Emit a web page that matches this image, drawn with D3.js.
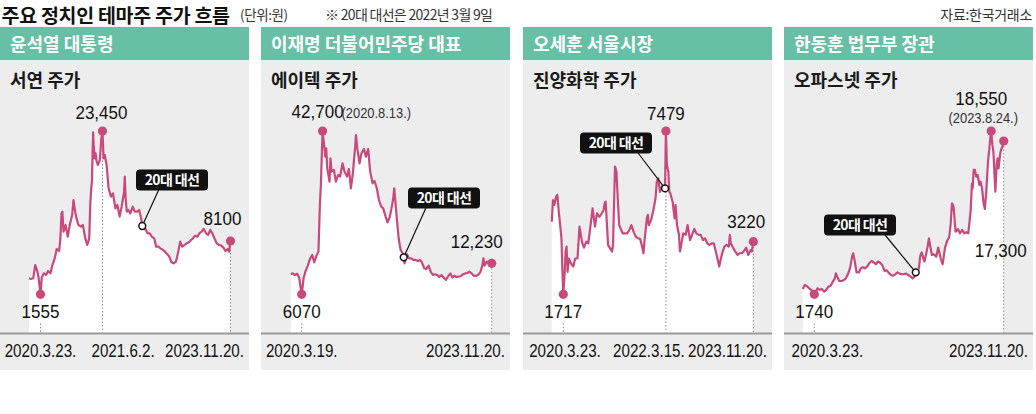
<!DOCTYPE html>
<html><head><meta charset="utf-8">
<script src="https://cdn.jsdelivr.net/npm/d3@7"></script>
<style>
body{margin:0;background:#fff;}
svg{display:block;}
text{font-family:"Liberation Sans",Arial,sans-serif;}
.kr{font-family:"Noto Sans CJK KR","Noto Sans",sans-serif;}
</style></head><body>
<svg id="chart" width="1036" height="414"></svg>
<script>
// ---------- DATA ----------
const titleText = "주요 정치인 테마주 주가 흐름";
const unitText = "(단위:원)";
const noteText = "※ 20대 대선은 2022년 3월 9일";
const sourceText = "자료:한국거래소";
const electionDate = "2022-03-09";
const electionLabel = "20대 대선";

const headers = ["윤석열 대통령", "이재명 더불어민주당 대표", "오세훈 서울시장", "한동훈 법무부 장관"];
const subtitles = ["서연 주가", "에이텍 주가", "진양화학 주가", "오파스넷 주가"];
const maxNotes = [null, "(2020.8.13.)", null, "(2023.8.24.)"];

const seoyeonDates = ["2020-01-02","2020-01-15","2020-02-01","2020-02-15","2020-03-01","2020-03-10","2020-03-23","2020-04-01","2020-04-15","2020-05-01","2020-05-15","2020-06-01","2020-06-15","2020-07-01","2020-07-15","2020-08-01","2020-08-10","2020-08-18","2020-08-24","2020-09-01","2020-09-15","2020-10-01","2020-10-15","2020-11-01","2020-11-10","2020-11-20","2020-12-01","2020-12-15","2021-01-01","2021-01-15","2021-02-01","2021-02-15","2021-03-01","2021-03-08","2021-03-15","2021-03-20","2021-03-28","2021-04-01","2021-04-08","2021-04-15","2021-04-22","2021-05-01","2021-05-15","2021-05-25","2021-06-02","2021-06-10","2021-06-18","2021-07-01","2021-07-15","2021-08-01","2021-08-15","2021-09-01","2021-09-15","2021-10-01","2021-10-15","2021-10-25","2021-11-01","2021-11-06","2021-11-12","2021-11-20","2021-12-01","2021-12-15","2022-01-01","2022-01-15","2022-02-01","2022-02-15","2022-03-01","2022-03-09","2022-03-15","2022-04-01","2022-04-15","2022-05-01","2022-05-15","2022-06-01","2022-06-15","2022-07-01","2022-07-15","2022-08-01","2022-08-15","2022-09-01","2022-09-15","2022-10-01","2022-10-15","2022-11-01","2022-11-15","2022-12-01","2022-12-15","2023-01-01","2023-01-15","2023-02-01","2023-02-15","2023-03-01","2023-03-15","2023-04-01","2023-04-15","2023-05-01","2023-05-15","2023-06-01","2023-06-15","2023-07-01","2023-07-15","2023-08-01","2023-08-15","2023-09-01","2023-09-15","2023-10-01","2023-10-15","2023-11-01","2023-11-10","2023-11-20"];
const seoyeonValues = [3520,3440,3520,5150,4340,3520,1555,3600,4130,3930,4420,4130,5150,5970,7120,6870,8470,11960,12190,9400,10330,8700,10330,11730,13820,12430,11260,10330,10100,10330,8470,7610,8470,13120,15450,16380,23270,21500,19640,20340,19170,18710,19410,22430,23450,19640,20100,18710,15450,14290,14750,12660,13120,11500,12890,14060,14990,17080,14060,12190,12430,11960,12890,12190,12190,12430,11260,10190,9780,9780,9170,9170,8700,8470,7400,7400,7200,7000,6790,6460,6180,5480,5360,5560,6590,8020,7400,7610,7810,7940,8240,8470,8840,8700,9170,9400,9780,9170,8940,9640,9170,8380,7810,7610,7530,7280,6870,7120,6790,8100];
const seoyeonTicks = ["2020-03-23","2021-06-02","2023-11-20"];
const seoyeonTickLabels = ["2020.3.23.","2021.6.2.","2023.11.20."];

const eitekDates = ["2020-01-02","2020-01-15","2020-02-01","2020-02-15","2020-03-01","2020-03-10","2020-03-19","2020-04-01","2020-04-15","2020-05-01","2020-05-15","2020-06-01","2020-06-15","2020-07-01","2020-07-15","2020-07-25","2020-08-01","2020-08-07","2020-08-13","2020-08-20","2020-09-01","2020-09-08","2020-09-15","2020-10-01","2020-10-08","2020-10-15","2020-11-01","2020-11-15","2020-12-01","2020-12-15","2021-01-01","2021-01-15","2021-02-01","2021-02-15","2021-03-01","2021-03-15","2021-04-01","2021-04-06","2021-04-15","2021-05-01","2021-05-15","2021-06-01","2021-06-15","2021-07-01","2021-07-15","2021-08-01","2021-08-15","2021-09-01","2021-09-15","2021-10-01","2021-10-15","2021-11-01","2021-11-15","2021-12-01","2021-12-15","2021-12-25","2022-01-01","2022-01-15","2022-02-01","2022-02-15","2022-03-01","2022-03-09","2022-03-15","2022-04-01","2022-04-15","2022-05-01","2022-05-15","2022-06-01","2022-06-15","2022-07-01","2022-07-15","2022-08-01","2022-08-15","2022-09-01","2022-09-15","2022-10-01","2022-10-15","2022-11-01","2022-11-15","2022-12-01","2022-12-15","2023-01-01","2023-01-15","2023-02-01","2023-02-15","2023-03-01","2023-03-15","2023-04-01","2023-04-15","2023-05-01","2023-05-15","2023-06-01","2023-06-15","2023-07-01","2023-07-15","2023-08-01","2023-08-15","2023-09-01","2023-09-15","2023-09-22","2023-10-01","2023-10-15","2023-11-01","2023-11-10","2023-11-20"];
const eitekValues = [10040,10240,9910,10180,9380,7590,6070,9250,10710,11770,13150,14150,12460,14000,14920,25660,30270,36410,42700,40630,36790,38710,34100,31030,36410,33340,33720,31030,32570,32190,35260,33340,32190,33950,29500,32950,39480,41780,38710,35260,37560,38560,36790,38560,33340,30650,31190,29350,26810,25280,24890,22980,21670,22980,25280,27200,29500,24130,17990,15300,14530,13610,12230,14300,13380,13380,13000,13000,12770,13000,12460,11240,11100,11770,10570,9910,10040,9910,9510,9910,9380,8920,9580,10240,9380,9780,9510,9580,9650,10040,10180,10310,10570,10240,9780,9710,9910,10440,11770,13380,11770,12610,12460,12030,12230];
const eitekTicks = ["2020-03-19","2023-11-20"];
const eitekTickLabels = ["2020.3.19.","2023.11.20."];

const jinyangDates = ["2020-01-02","2020-01-10","2020-01-20","2020-02-01","2020-02-10","2020-02-20","2020-03-01","2020-03-10","2020-03-16","2020-03-23","2020-04-01","2020-04-08","2020-04-15","2020-04-22","2020-05-01","2020-05-15","2020-06-01","2020-06-15","2020-07-01","2020-07-15","2020-08-01","2020-08-15","2020-09-01","2020-09-15","2020-10-01","2020-10-15","2020-11-01","2020-11-15","2020-12-01","2020-12-15","2021-01-01","2021-01-08","2021-01-15","2021-02-01","2021-02-15","2021-03-01","2021-03-08","2021-03-15","2021-03-22","2021-04-01","2021-04-10","2021-04-20","2021-05-01","2021-05-15","2021-06-01","2021-06-15","2021-07-01","2021-07-15","2021-08-01","2021-08-15","2021-09-01","2021-09-15","2021-10-01","2021-10-08","2021-10-15","2021-11-01","2021-11-08","2021-11-15","2021-12-01","2021-12-15","2022-01-01","2022-01-10","2022-01-20","2022-02-01","2022-02-15","2022-03-09","2022-03-15","2022-03-22","2022-04-01","2022-04-08","2022-04-15","2022-05-01","2022-05-15","2022-05-22","2022-06-01","2022-06-15","2022-06-22","2022-07-01","2022-07-15","2022-08-01","2022-08-15","2022-09-01","2022-09-15","2022-10-01","2022-10-15","2022-11-01","2022-11-15","2022-12-01","2022-12-15","2023-01-01","2023-01-15","2023-02-01","2023-02-15","2023-03-01","2023-03-15","2023-03-25","2023-04-01","2023-04-15","2023-05-01","2023-05-15","2023-06-01","2023-06-08","2023-06-15","2023-07-01","2023-07-15","2023-08-01","2023-08-15","2023-09-01","2023-09-15","2023-10-01","2023-10-15","2023-11-01","2023-11-10","2023-11-20"];
const jinyangValues = [3990,4820,4630,4950,5020,4380,3860,3350,2460,1717,2270,2940,3080,2360,2740,2600,2510,2740,2740,3800,3220,3050,3220,3170,3860,4500,3800,4310,4180,4270,4440,4700,4760,3130,3030,2940,3130,4630,6110,5910,4890,3860,3710,3540,3540,3540,3670,3860,3580,3410,3350,3320,3030,2890,3220,4120,4250,3860,4050,4380,4890,5530,5660,5140,5340,5270,7479,6170,5910,5140,5080,4760,4120,4630,3860,3480,2940,3130,3540,3480,3860,3280,3480,3710,3540,3480,3480,3280,3350,3170,3130,3170,3170,2940,2700,2510,2650,2890,3080,3130,3080,3480,3170,3050,2940,2840,2890,2890,2950,3050,2840,2980,2940,3220];
const jinyangTicks = ["2020-03-23","2022-03-15","2023-11-20"];
const jinyangTickLabels = ["2020.3.23.","2022.3.15.","2023.11.20."];

const opasnetDates = ["2020-01-02","2020-01-15","2020-02-01","2020-02-15","2020-03-01","2020-03-10","2020-03-23","2020-04-01","2020-04-15","2020-05-01","2020-05-15","2020-06-01","2020-06-15","2020-07-01","2020-07-15","2020-08-01","2020-08-15","2020-08-22","2020-09-01","2020-09-15","2020-10-01","2020-10-15","2020-11-01","2020-11-15","2020-12-01","2020-12-15","2020-12-22","2021-01-01","2021-01-15","2021-02-01","2021-02-15","2021-03-01","2021-03-15","2021-04-01","2021-04-15","2021-05-01","2021-05-15","2021-06-01","2021-06-15","2021-07-01","2021-07-15","2021-08-01","2021-08-15","2021-09-01","2021-09-15","2021-10-01","2021-10-15","2021-11-01","2021-11-15","2021-12-01","2021-12-15","2022-01-01","2022-01-15","2022-02-01","2022-02-15","2022-03-01","2022-03-09","2022-03-22","2022-04-01","2022-04-10","2022-04-20","2022-05-01","2022-05-10","2022-05-20","2022-06-01","2022-06-10","2022-06-20","2022-07-01","2022-07-15","2022-08-01","2022-08-15","2022-09-01","2022-09-15","2022-10-01","2022-10-15","2022-11-01","2022-11-10","2022-11-20","2022-12-01","2022-12-15","2023-01-01","2023-01-15","2023-02-01","2023-02-15","2023-03-01","2023-03-15","2023-03-25","2023-04-01","2023-04-10","2023-04-15","2023-04-22","2023-05-01","2023-05-10","2023-05-20","2023-06-01","2023-06-10","2023-06-20","2023-07-01","2023-07-10","2023-07-20","2023-08-01","2023-08-10","2023-08-17","2023-08-24","2023-09-01","2023-09-08","2023-09-15","2023-09-22","2023-10-01","2023-10-08","2023-10-15","2023-10-25","2023-11-01","2023-11-10","2023-11-20"];
const opasnetValues = [2280,2690,2550,2350,2180,2010,1740,1940,2350,2180,2280,2010,2180,2520,2590,3030,3360,3870,3530,3090,3090,3160,3360,3770,4450,5560,5900,5220,3970,3970,4380,4480,4380,4580,4890,5120,4990,4790,5060,4950,4720,4110,4180,3910,3700,3630,3770,3970,3840,3770,3800,3840,3700,3530,3360,3530,3970,4040,4450,5660,6000,5390,5060,5730,6580,7420,6580,5730,5800,5560,6480,5390,4790,6410,7090,7590,8780,10980,10640,8100,8370,7930,8270,7930,8030,7930,9280,10300,13010,12500,14360,14360,13680,13850,12840,13170,12500,10980,10400,12160,15200,16390,17630,18550,16900,16220,14190,12160,14870,15540,14530,15880,16390,16730,17300];
const opasnetTicks = ["2020-03-23","2023-11-20"];
const opasnetTickLabels = ["2020.3.23.","2023.11.20."];

// ---------- LAYOUT (positions / styles only) ----------
const W = 249, headTop = 27, headH = 33, bgBottom = 370, baseY = 333.5;
const rowMin = 294.3, rowMax = 131;
const lineColor = "#c8497b";
const layout = [
  {x0:0,   xa:40.5, xb:230.5, lastRow:241,   tickDx:[0,20.6],  call:[172,180],
   maxL:{dx:-1,dy:-12,anchor:"middle"}, lastL:{dx:-8,dy:-16}, note:null},
  {x0:261, xa:41.3, xb:230.7, lastRow:263.3, tickDx:[0],       call:[183,198],
   maxL:{dx:-31,dy:-13,anchor:"start"}, lastL:{dx:-15,dy:-15}, note:{dx:19,dy:-13,anchor:"start"}},
  {x0:523, xa:40.3, xb:230.3, lastRow:241.7, tickDx:[1.7,-17], call:[93,143],
   maxL:{dx:0,dy:-11,anchor:"middle"}, lastL:{dx:-7,dy:-14}, note:null},
  {x0:784, xa:30.3, xb:219.7, lastRow:141,   tickDx:[13],      call:[76,225],
   maxL:{dx:-10,dy:-26,anchor:"middle"}, lastL:{dx:-3,dy:116}, note:{dx:-8,dy:-8,anchor:"middle"}}
];

const panels = [
  {dates:seoyeonDates, values:seoyeonValues, ticks:seoyeonTicks, tickLabels:seoyeonTickLabels},
  {dates:eitekDates,   values:eitekValues,   ticks:eitekTicks,   tickLabels:eitekTickLabels},
  {dates:jinyangDates, values:jinyangValues, ticks:jinyangTicks, tickLabels:jinyangTickLabels},
  {dates:opasnetDates, values:opasnetValues, ticks:opasnetTicks, tickLabels:opasnetTickLabels}
];

const parse = d3.timeParse("%Y-%m-%d");
const fmtVal = v => v >= 10000 ? d3.format(",")(v) : d3.format("d")(v);
const svg = d3.select("#chart");

// narrow text helper (horizontal squeeze like the newspaper typeface)
function narrowText(sel, px, py, txt, anchor, size, sx, fill) {
  return sel.append("text").attr("transform", `translate(${px},${py}) scale(${sx},1)`)
    .attr("text-anchor", anchor).attr("font-size", size).attr("fill", fill || "#111").text(txt);
}

// title row
svg.append("text").attr("class","kr").attr("x",1.5).attr("y",22.7)
  .attr("font-size",19.5).attr("font-weight",700).attr("fill","#111").attr("letter-spacing",-0.3).text(titleText);
svg.append("text").attr("class","kr").attr("x",240).attr("y",20)
  .attr("font-size",13.5).attr("fill","#333").attr("letter-spacing",-0.4).text(unitText);
svg.append("text").attr("class","kr").attr("x",325).attr("y",20)
  .attr("font-size",14).attr("fill","#333").attr("letter-spacing",-0.7).text(noteText);
svg.append("text").attr("class","kr").attr("x",1032).attr("y",20).attr("text-anchor","end")
  .attr("font-size",14).attr("fill","#333").attr("letter-spacing",-0.3).text(sourceText);

panels.forEach((p, i) => {
  const L = layout[i];
  const g = svg.append("g");
  const data = p.dates.map((d, j) => ({date: parse(d), value: p.values[j]}));
  const x = d3.scaleTime().domain([parse("2020-03-23"), parse("2023-11-20")]).range([L.x0 + L.xa, L.x0 + L.xb]);
  const iMin = d3.minIndex(data, d => d.value), iMax = d3.maxIndex(data, d => d.value);
  const dMin = data[iMin], dMax = data[iMax], dLast = data[data.length - 1];
  const y = d3.scaleLinear().domain([dMin.value, dLast.value, dMax.value]).range([rowMin, L.lastRow, rowMax]);

  g.append("rect").attr("x",L.x0).attr("y",headTop).attr("width",W).attr("height",bgBottom-headTop).attr("fill","#ededed");
  g.append("rect").attr("x",L.x0).attr("y",headTop).attr("width",W).attr("height",headH).attr("fill","#67bfa6");
  g.append("text").attr("class","kr").attr("x",L.x0+10).attr("y",51).attr("font-size",18).attr("font-weight",700)
    .attr("fill","#fff").text(headers[i]);
  g.append("text").attr("class","kr").attr("x",L.x0+10).attr("y",87).attr("font-size",18).attr("font-weight",700)
    .attr("fill","#1a1a1a").text(subtitles[i]);

  // area + baseline
  g.append("path").datum(data).attr("fill","#fff")
    .attr("d", d3.area().x(d => x(d.date)).y0(baseY).y1(d => y(d.value)));
  g.append("line").attr("x1",L.x0).attr("x2",L.x0+W).attr("y1",baseY).attr("y2",baseY)
    .attr("stroke","#9a9a9a").attr("stroke-width",2);

  // drop lines at tick dates
  p.ticks.forEach(t => {
    const d = data.find(e => +e.date === +parse(t));
    const top = d === dMin ? y(d.value) + 29 : y(d.value) + 5;
    g.append("line").attr("x1",x(d.date)).attr("x2",x(d.date)).attr("y1",top).attr("y2",baseY-1)
      .attr("stroke","#8a8a8a").attr("stroke-width",1).attr("stroke-dasharray","1.5,2");
  });

  // line
  g.append("path").datum(data).attr("fill","none").attr("stroke",lineColor).attr("stroke-width",2.2)
    .attr("stroke-linejoin","round").attr("d", d3.line().x(d => x(d.date)).y(d => y(d.value)));

  // key dots
  [dMin, dMax, dLast].forEach(d => {
    g.append("circle").attr("cx",x(d.date)).attr("cy",y(d.value)).attr("r",4.6).attr("fill",lineColor);
  });

  // election callout
  const dE = data.find(e => +e.date === +parse(electionDate));
  const ex = x(dE.date), ey = y(dE.value);
  const cx = L.x0 + L.call[0], cy = L.call[1];
  const ax = cx + Math.max(-28, Math.min(28, (ex - cx) * 0.45));
  g.append("line").attr("x1",ax).attr("y1",cy+10).attr("x2",ex).attr("y2",ey)
    .attr("stroke","#111").attr("stroke-width",1.2);
  g.append("rect").attr("x",cx-36).attr("y",cy-10.5).attr("width",72).attr("height",21).attr("rx",4).attr("fill","#111");
  g.append("text").attr("class","kr").attr("x",cx).attr("y",cy+5).attr("text-anchor","middle")
    .attr("font-size",14).attr("font-weight",700).attr("fill","#fff").attr("letter-spacing",-0.6).text(electionLabel);
  g.append("circle").attr("cx",ex).attr("cy",ey).attr("r",3.4).attr("fill","#fff").attr("stroke","#111").attr("stroke-width",1.5);

  // value labels
  narrowText(g, x(dMax.date)+L.maxL.dx, y(dMax.value)+L.maxL.dy, fmtVal(dMax.value), L.maxL.anchor, 18.5, 0.92);
  narrowText(g, x(dMin.date), y(dMin.value)+24, fmtVal(dMin.value), "middle", 18.5, 0.92);
  narrowText(g, x(dLast.date)+L.lastL.dx, y(dLast.value)+L.lastL.dy, fmtVal(dLast.value), "middle", 18.5, 0.92);
  if (maxNotes[i]) narrowText(g, x(dMax.date)+L.note.dx, y(dMax.value)+L.note.dy, maxNotes[i], L.note.anchor, 15, 0.86, "#333");

  // tick labels
  p.ticks.forEach((t, k) => {
    const isLast = k === p.ticks.length - 1;
    narrowText(g, isLast ? L.x0 + W - 5 : x(parse(t)) + L.tickDx[k], 357, p.tickLabels[k],
      isLast ? "end" : "middle", 18.5, 0.82);
  });
});
</script>
</body></html>
